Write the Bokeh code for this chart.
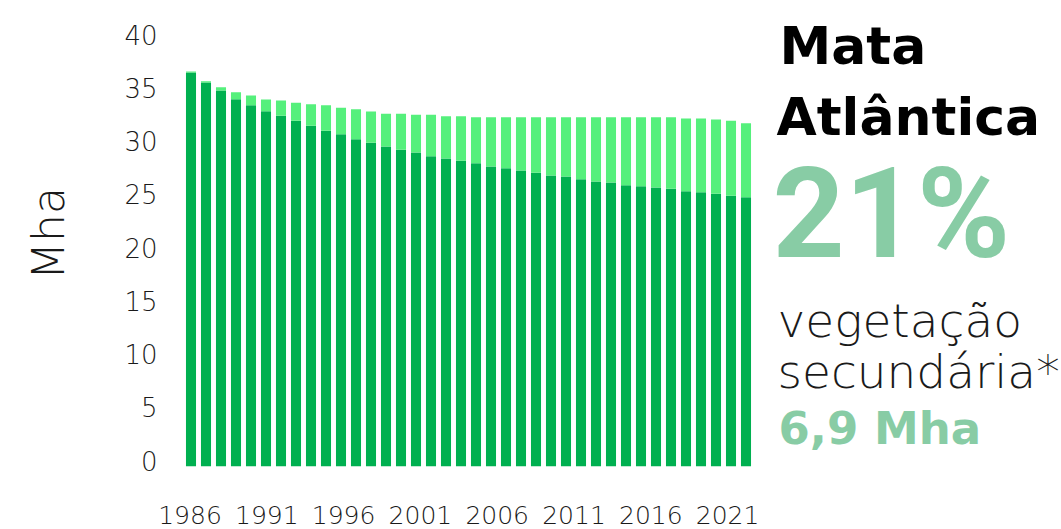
from bokeh.plotting import figure
from bokeh.models import Range1d, FixedTicker, LinearAxis
from bokeh.core.properties import value
from bokeh.embed import file_html
from bokeh.resources import INLINE

# ---- data ----
years = list(range(1986, 2024))
primary = [37.00, 36.06, 35.31, 34.49, 33.92, 33.36, 32.93, 32.46, 31.99, 31.52,
           31.20, 30.73, 30.39, 30.05, 29.74, 29.48, 29.14, 28.92, 28.70, 28.48,
           28.17, 28.01, 27.79, 27.58, 27.32, 27.23, 26.98, 26.76, 26.67, 26.41,
           26.32, 26.20, 26.08, 25.85, 25.76, 25.61, 25.42, 25.29]
secondary = [0.09, 0.12, 0.31, 0.66, 0.92, 1.10, 1.44, 1.69, 2.03, 2.40,
             2.48, 2.82, 2.94, 3.07, 3.38, 3.54, 3.88, 3.97, 4.19, 4.32,
             4.63, 4.79, 5.01, 5.22, 5.48, 5.57, 5.82, 6.04, 6.13, 6.39,
             6.48, 6.60, 6.72, 6.83, 6.92, 6.97, 7.04, 6.95]
x_ticks = [1986, 1991, 1996, 2001, 2006, 2011, 2016, 2021]
y_ticks = [0, 5, 10, 15, 20, 25, 30, 35, 40]

DARK = "#00B050"
LIGHT = "#55F07C"
ACCENT = "#88CCA5"
FONT = "DejaVu Sans"
LIGHTFONT = "'DejaVu Sans Light', 'DejaVu Sans ExtraLight', 'DejaVu Sans'"

totals = [a + b for a, b in zip(primary, secondary)]

W, H = 1061, 529
LEFT, BOTTOM = 183, 63
PX_PER_YEAR = 15.0
PX_PER_MHA = 10.65
frame_w = W - LEFT
frame_h = H - BOTTOM
x0 = years[0] - 0.5

p = figure(width=W, height=H, output_backend="svg", toolbar_location=None,
           x_range=Range1d(x0, x0 + frame_w / PX_PER_YEAR),
           y_range=Range1d(0, frame_h / PX_PER_MHA),
           x_axis_location=None, y_axis_location=None,
           min_border_left=LEFT, min_border_right=0, min_border_top=0, min_border_bottom=BOTTOM)
p.vbar(x=years, bottom=0, top=primary, width=0.67, color=DARK, line_color=None)
p.vbar(x=years, bottom=primary, top=totals, width=0.67, color=LIGHT, line_color=None)

p.outline_line_color = None
p.background_fill_color = "white"
p.border_fill_color = "white"

# label axes (the source's labels sit slightly offset from the bar grid)
lab_scale = 15.36
lab_start = x_ticks[0] - (189.5 - LEFT) / lab_scale
y_lab_start = -6 / PX_PER_MHA
p.extra_x_ranges = {"xlabels": Range1d(lab_start, lab_start + frame_w / lab_scale)}
p.extra_y_ranges = {"ylabels": Range1d(y_lab_start, y_lab_start + frame_h / PX_PER_MHA)}

xa = LinearAxis(x_range_name="xlabels", ticker=FixedTicker(ticks=x_ticks))
xa.major_tick_line_color = None
xa.minor_tick_line_color = None
xa.axis_line_color = None
xa.major_label_standoff = 33
xa.major_label_text_font = LIGHTFONT
xa.major_label_text_font_size = "25px"
xa.major_label_text_color = "#1a1a1a"
p.add_layout(xa, "below")

ya = LinearAxis(y_range_name="ylabels", ticker=FixedTicker(ticks=y_ticks))
ya.major_tick_line_color = None
ya.minor_tick_line_color = None
ya.axis_line_color = None
ya.major_label_standoff = 20
ya.major_label_text_font = LIGHTFONT
ya.major_label_text_font_size = "26px"
ya.major_label_text_color = "#1a1a1a"
ya.axis_label = "Mha"
ya.axis_label_text_font = LIGHTFONT
ya.axis_label_text_font_style = "normal"
ya.axis_label_text_font_size = "44px"
ya.axis_label_text_color = "#1a1a1a"
ya.axis_label_standoff = 47
p.add_layout(ya, "left")

p.xgrid.visible = False
p.ygrid.visible = False

# ---- right-hand text block (positions given in screen pixels) ----
def sx(px):
    return x0 + (px - LEFT) / PX_PER_YEAR

def sy(py):
    return (frame_h - py) / PX_PER_MHA

def txt(px, py, s, size, color, style="normal", font=FONT):
    p.text(x=[sx(px)], y=[sy(py)], text=[s], text_font=value(font), text_font_size=size,
           text_color=color, text_font_style=style, text_baseline="alphabetic",
           text_align="left")

txt(779, 45, "Mata", "52px", "#000000", "bold")
txt(776, 116, "Atlântica", "52px", "#000000", "bold")
txt(772, 213, "21%", "126px", ACCENT, "bold", "Roboto")
txt(777, 320, "vegetação", "47px", "#1a1a1a", "normal", LIGHTFONT)
txt(777, 371, "secundária*", "47px", "#1a1a1a", "normal", LIGHTFONT)
txt(778, 428, "6,9 Mha", "45px", ACCENT, "bold")

open("out.html", "w").write(file_html(p, INLINE))
